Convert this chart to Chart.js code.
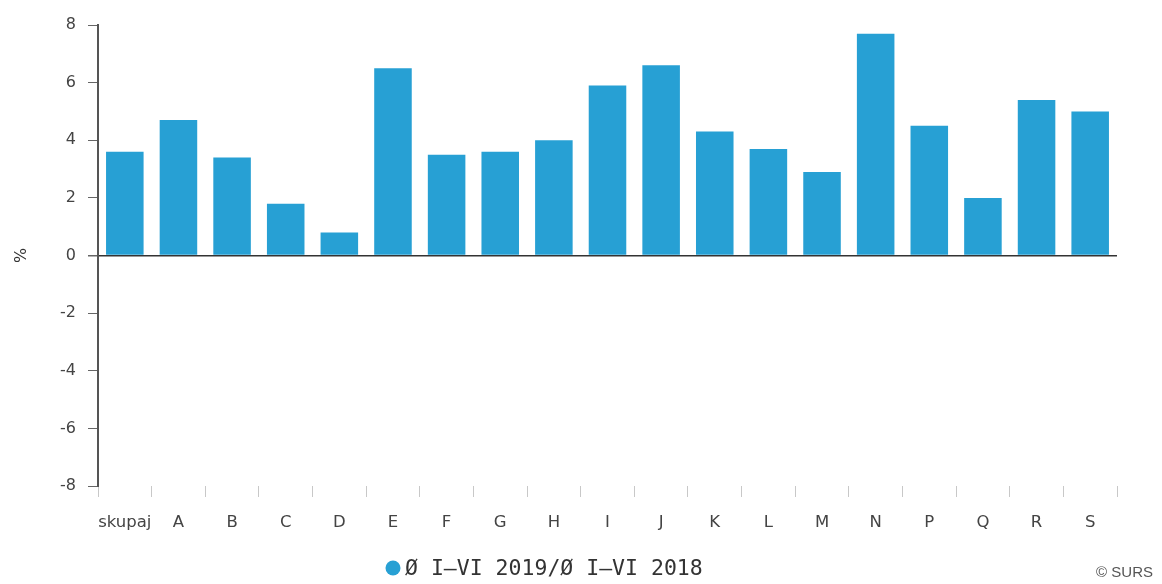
<!DOCTYPE html>
<html>
<head>
<meta charset="utf-8">
<script src="https://cdn.jsdelivr.net/npm/chart.js@4/dist/chart.umd.min.js"></script>
<style>
  html, body { margin: 0; padding: 0; background: #fff; }
  #wrap { width: 1162px; height: 584px; position: relative; }
</style>
</head>
<body>
<div id="wrap"><canvas id="c" width="1162" height="584"></canvas></div>
<script>
const categories = ['skupaj','A','B','C','D','E','F','G','H','I','J','K','L','M','N','P','Q','R','S'];
const values = [3.6, 4.7, 3.4, 1.8, 0.8, 6.5, 3.5, 3.6, 4.0, 5.9, 6.6, 4.3, 3.7, 2.9, 7.7, 4.5, 2.0, 5.4, 5.0];
const yTickValues = [-8, -6, -4, -2, 0, 2, 4, 6, 8];
const seriesLabel = 'Ø I–VI 2019/Ø I–VI 2018';
const yTitle = '%';
const creditText = '© SURS';

const barColor = '#27a0d4';

const customLegend = {
  id: 'customLegend',
  afterDraw(chart) {
    const ctx = chart.ctx;
    ctx.save();
    ctx.fillStyle = barColor;
    ctx.beginPath();
    ctx.arc(393, 568, 7.5, 0, Math.PI * 2);
    ctx.fill();
    ctx.fillStyle = '#333';
    ctx.font = '21.5px "DejaVu Sans Mono"';
    ctx.textBaseline = 'middle';
    ctx.textAlign = 'left';
    ctx.fillText(chart.data.datasets[0].label, 405, 569);
    ctx.fillStyle = '#555';
    ctx.font = '15px "Liberation Sans"';
    ctx.textAlign = 'right';
    ctx.fillText(creditText, 1153, 573);
    ctx.restore();
  }
};

new Chart(document.getElementById('c'), {
  type: 'bar',
  data: {
    labels: categories,
    datasets: [{
      label: seriesLabel,
      data: values,
      backgroundColor: barColor,
      borderWidth: 0,
      categoryPercentage: 0.7,
      barPercentage: 1.0
    }]
  },
  options: {
    responsive: false,
    animation: false,
    devicePixelRatio: 1,
    layout: { padding: { top: 25, right: 45, left: 0, bottom: 0 } },
    plugins: {
      legend: { display: false },
      tooltip: { enabled: false }
    },
    scales: {
      x: {
        afterFit(scale) { scale.height = 98; },
        border: { display: false },
        grid: {
          offset: true,
          drawOnChartArea: false,
          drawTicks: true,
          tickLength: 11,
          color: '#c8c8c8',
          tickColor: '#c8c8c8'
        },
        ticks: {
          color: '#444',
          font: { family: 'DejaVu Sans', size: 16.5 },
          padding: 16,
          maxRotation: 0,
          autoSkip: false
        }
      },
      y: {
        min: -8,
        max: 8,
        afterFit(scale) { scale.width = 98; },
        afterBuildTicks(scale) { scale.ticks = yTickValues.map(v => ({ value: v })); },
        border: { display: true, color: '#555', width: 2 },
        grid: {
          drawOnChartArea: true,
          drawTicks: true,
          tickLength: 10,
          color: ctx => (ctx.tick && ctx.tick.value === 0) ? '#333' : 'rgba(0,0,0,0)',
          lineWidth: ctx => (ctx.tick && ctx.tick.value === 0) ? 1.5 : 1,
          tickColor: '#666'
        },
        ticks: {
          color: '#444',
          font: { family: 'DejaVu Sans', size: 16 },
          padding: 12
        },
        title: {
          display: true,
          text: yTitle,
          color: '#333',
          font: { family: 'DejaVu Sans', size: 16 },
          padding: { top: 12, bottom: 0 }
        }
      }
    }
  },
  plugins: [customLegend]
});
</script>
</body>
</html>
